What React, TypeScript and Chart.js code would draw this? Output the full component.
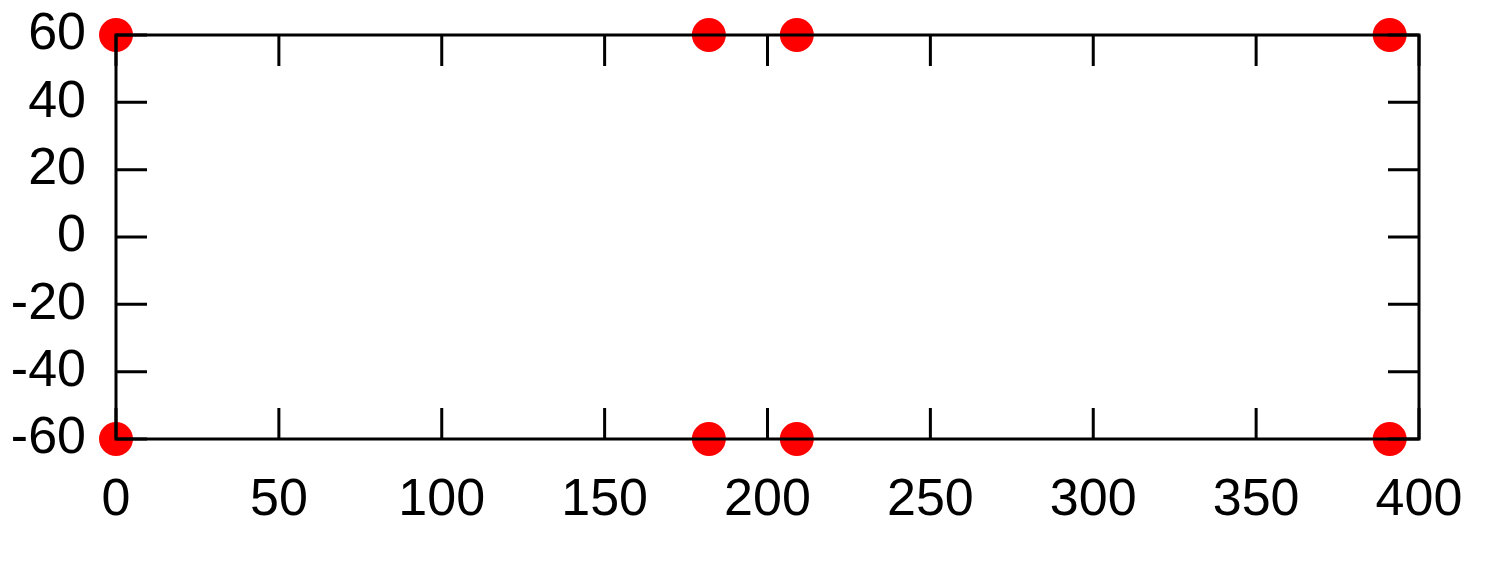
import React, { useEffect, useRef } from "react";
import { Chart, registerables } from "chart.js";

Chart.register(...registerables);

const xValues = [0, 182, 209, 391, 0, 182, 209, 391];
const yValues = [60, 60, 60, 60, -60, -60, -60, -60];
const xTicks = [0, 50, 100, 150, 200, 250, 300, 350, 400];
const yTicks = [-60, -40, -20, 0, 20, 40, 60];

const TICK_LEN = 31;

const framePlugin = {
  id: "gnuframe",
  afterDatasetsDraw(chart: any) {
    const { ctx, chartArea, scales } = chart;
    const { left, right, top, bottom } = chartArea;
    const x = scales.x;
    const y = scales.y;
    ctx.save();
    ctx.strokeStyle = "#000";
    ctx.lineWidth = 3;
    ctx.lineCap = "butt";
    ctx.beginPath();
    for (const v of xTicks) {
      const px = x.getPixelForValue(v);
      ctx.moveTo(px, bottom);
      ctx.lineTo(px, bottom - TICK_LEN);
      ctx.moveTo(px, top);
      ctx.lineTo(px, top + TICK_LEN);
    }
    for (const v of yTicks) {
      const py = y.getPixelForValue(v);
      ctx.moveTo(left, py);
      ctx.lineTo(left + TICK_LEN, py);
      ctx.moveTo(right, py);
      ctx.lineTo(right - TICK_LEN, py);
    }
    ctx.stroke();
    ctx.lineJoin = "miter";
    ctx.strokeRect(left, top, right - left, bottom - top);
    ctx.restore();
  },
};

export default function App() {
  const ref = useRef<HTMLCanvasElement>(null);
  useEffect(() => {
    if (!ref.current) return;
    const font = { family: "'Liberation Sans', Arial, sans-serif", size: 52 };
    const chart = new Chart(ref.current, {
      type: "scatter",
      data: {
        datasets: [
          {
            data: xValues.map((v, i) => ({ x: v, y: yValues[i] })),
            backgroundColor: "#ff0000",
            borderWidth: 0,
            pointRadius: 17,
            pointHoverRadius: 17,
            clip: false as any,
          },
        ],
      },
      options: {
        animation: false,
        responsive: false,
        maintainAspectRatio: false,
        events: [],
        layout: { padding: { left: 0, top: 35, right: 71, bottom: 0 } },
        plugins: {
          legend: { display: false },
          tooltip: { enabled: false },
        },
        scales: {
          x: {
            type: "linear",
            min: 0,
            max: 400,
            afterBuildTicks: (s: any) => {
              s.ticks = xTicks.map((v) => ({ value: v }));
            },
            afterFit: (s: any) => {
              s.height = 131;
              s.paddingLeft = 0;
              s.paddingRight = 0;
              s.paddingTop = 0;
              s.paddingBottom = 0;
            },
            ticks: { color: "#000", font, padding: 30, maxRotation: 0, autoSkip: false },
            grid: { display: false, drawTicks: false },
            border: { display: false },
          },
          y: {
            type: "linear",
            min: -60,
            max: 60,
            afterBuildTicks: (s: any) => {
              s.ticks = yTicks.map((v) => ({ value: v }));
            },
            afterFit: (s: any) => {
              s.width = 116;
              s.paddingLeft = 0;
              s.paddingRight = 0;
              s.paddingTop = 0;
              s.paddingBottom = 0;
            },
            ticks: { color: "#000", font, padding: 30, autoSkip: false },
            grid: { display: false, drawTicks: false },
            border: { display: false },
          },
        },
      },
      plugins: [framePlugin],
    });
    return () => chart.destroy();
  }, []);
  return (
    <div style={{ position: "absolute", left: 0, top: 0, width: 1490, height: 570, background: "#fff" }}>
      <canvas ref={ref} width={1490} height={570} style={{ display: "block" }} />
    </div>
  );
}
